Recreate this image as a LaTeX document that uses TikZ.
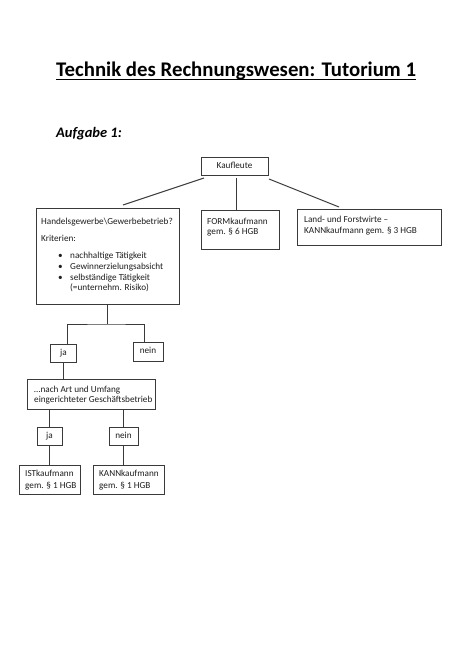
\documentclass[tikz,border=0pt]{standalone}
\usepackage{fontspec}
\setmainfont{Carlito}
\usetikzlibrary{calc}
\definecolor{boxgray}{HTML}{3A3A3A}
\definecolor{textgray}{HTML}{1E1E1E}
\begin{document}
\begin{tikzpicture}[x=1pt,y=-1pt,
  box/.style={draw=boxgray, line width=1pt, inner sep=0pt, outer sep=0pt, font=\fontsize{9.2}{11}\selectfont, text=textgray, text height=6.3pt, text depth=1.6pt},
  txt/.style={inner sep=0pt, anchor=base west, font=\fontsize{9.2}{11}\selectfont, text=textgray},
  conn/.style={draw=boxgray, line width=1pt}]
\fill[white] (0,0) rectangle (474,670);
\useasboundingbox (0,0) rectangle (474,670);

% title
\node[anchor=base west, inner sep=0pt, font=\fontsize{20.8}{24}\selectfont\bfseries] (title) at (56,76) {Technik des Rechnungswesen: Tutorium 1};
\draw[line width=1.4pt] ([yshift=-3.5pt]title.base west) -- ([yshift=-3.5pt]title.base east);
\node[anchor=base west, inner sep=0pt, font=\fontsize{14.5}{17}\selectfont\bfseries\itshape] (aufg) at (56,137) {Aufgabe 1:};

% boxes
\node[box, minimum width=67pt, minimum height=18pt] (kauf) at (234.5,166) {Kaufleute};
\node[box, minimum width=143pt, minimum height=96pt] (hand) at (107.5,256) {};
\node[box, minimum width=78pt, minimum height=39pt] (form) at (240,229.5) {};
\node[box, minimum width=144pt, minimum height=36pt] (land) at (369,227) {};
\node[box, minimum width=26pt, minimum height=18pt] (ja1) at (63.5,353) {ja};
\node[box, minimum width=30pt, minimum height=19pt] (nein1) at (148,351.5) {nein};
\node[box, minimum width=128pt, minimum height=30pt] (nach) at (91,394) {};
\node[box, minimum width=25pt, minimum height=18pt] (ja2) at (49.5,436) {ja};
\node[box, minimum width=29pt, minimum height=18pt] (nein2) at (123.5,436) {nein};
\node[box, minimum width=61pt, minimum height=29pt] (ist) at (49.5,479.5) {};
\node[box, minimum width=71pt, minimum height=29pt] (kann) at (128.5,479.5) {};

% texts inside boxes
\node[txt] (hand1) at (41,224) {Handelsgewerbe\textbackslash Gewerbebetrieb?};
\node[txt] (hand2) at (41,241) {Kriterien:};
\node[txt] (bul1) at (58,258) {\textbullet};
\node[txt] (it1) at (70,258) {nachhaltige Tätigkeit};
\node[txt] (bul2) at (58,269) {\textbullet};
\node[txt] (it2) at (70,269) {Gewinnerzielungsabsicht};
\node[txt] (bul3) at (58,280) {\textbullet};
\node[txt] (it3) at (70,280) {selbständige Tätigkeit};
\node[txt] (it4) at (70,290) {(=unternehm. Risiko)};

\node[txt] (form1) at (207,224) {FORMkaufmann};
\node[txt] (form2) at (207,234) {gem. § 6 HGB};
\node[txt] (land1) at (304,222) {Land- und Forstwirte –};
\node[txt] (land2) at (304,233) {KANNkaufmann gem. § 3 HGB};
\node[txt] (nach1) at (34,392) {…nach Art und Umfang};
\node[txt] (nach2) at (34,402.5) {eingerichteter Geschäftsbetrieb};
\node[txt] (ist1) at (25,476) {ISTkaufmann};
\node[txt] (ist2) at (25,488) {gem. § 1 HGB};
\node[txt] (kann1) at (99,476) {KANNkaufmann};
\node[txt] (kann2) at (99,488) {gem. § 1 HGB};

% connectors
\draw[conn] ([xshift=3pt,yshift=-3pt]kauf.south west) -- ([xshift=15.5pt,yshift=3pt]hand.north);
\draw[conn] ([xshift=1.5pt,yshift=-3pt]kauf.south) -- ([xshift=-4pt]form.north);
\draw[conn] ([xshift=1pt,yshift=-4pt]kauf.south east) -- ([xshift=-30pt,yshift=2pt]land.north);
\coordinate (br1) at (107,324);
\draw[conn] (hand.south) -- (hand.south |- br1);
\draw[conn] ([xshift=4pt]ja1.north) |- (br1) -| ([xshift=-4pt]nein1.north);
\draw[conn] (ja1.south) -- (ja1.south |- nach.north);
\draw[conn] (ja2.north) -- (ja2.north |- nach.south);
\draw[conn] (nein2.north) -- (nein2.north |- nach.south);
\draw[conn] (ja2.south) -- (ist.north);
\draw[conn] (nein2.south) -- (nein2.south |- kann.north);
\end{tikzpicture}
\end{document}
